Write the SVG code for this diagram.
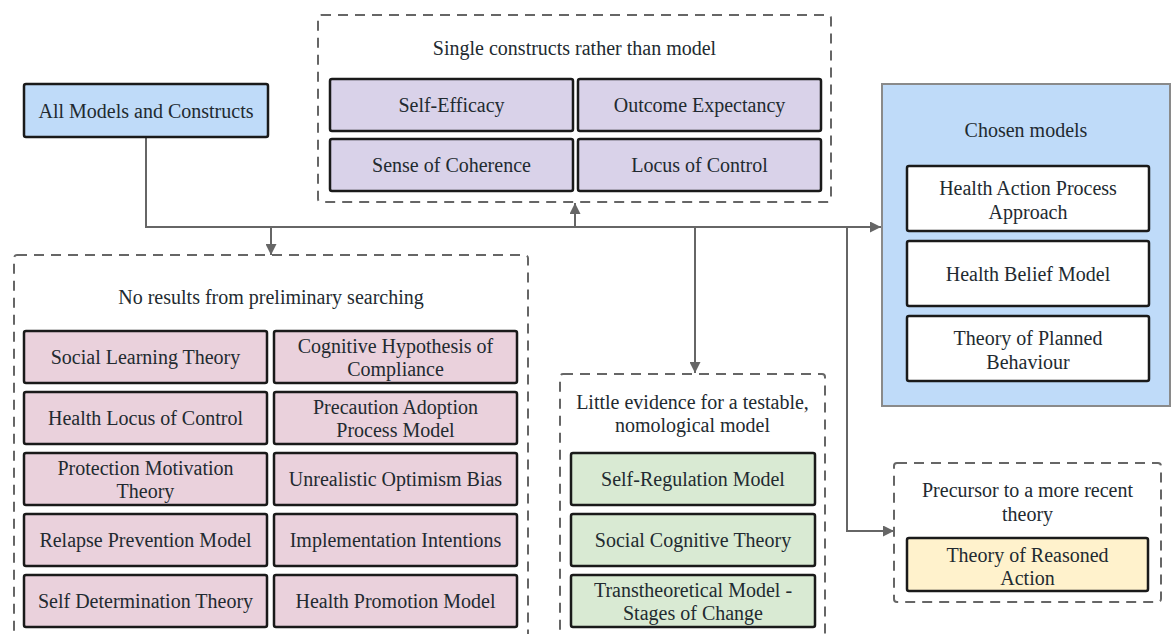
<svg xmlns="http://www.w3.org/2000/svg" width="1172" height="634" viewBox="0 0 1172 634">
<defs>
<style>
text{font-family:"Liberation Serif","Times New Roman",serif;font-size:20px;fill:#222a30;text-anchor:middle}
.box{stroke:#1a1a1a;stroke-width:2.5}
.dash{fill:none;stroke:#666;stroke-width:2;stroke-dasharray:10 7}
.blue{fill:#bfdbf9}
.purple{fill:#d9d2e9}
.pink{fill:#ead1dc}
.green{fill:#d9ead3}
.yellow{fill:#fff2cc}
.white{fill:#fff}
.conn{fill:none;stroke:#666;stroke-width:2}
</style>
<marker id="arr" viewBox="0 0 10 10" refX="10" refY="5" markerWidth="5.5" markerHeight="5.5" orient="auto" markerUnits="strokeWidth">
<path d="M0,0 L10,5 L0,10 z" fill="#666"/>
</marker>
</defs>
<rect width="1172" height="634" fill="#fff"/>

<g id="connectors">
<path class="conn" d="M146,137 V227 H881" marker-end="url(#arr)"/>
<path class="conn" d="M271,227 V255" marker-end="url(#arr)"/>
<path class="conn" d="M575,227 V203" marker-end="url(#arr)"/>
<path class="conn" d="M695,227 V373" marker-end="url(#arr)"/>
<path class="conn" d="M847,227 V531 H894" marker-end="url(#arr)"/>
</g>

<g id="all-models">
<rect class="box blue" x="24" y="84" width="244" height="53" rx="2"/>
<text x="146" y="118">All Models and Constructs</text>
</g>

<g id="single-constructs">
<rect class="dash" x="318" y="15" width="513" height="187" rx="3"/>
<text x="574.5" y="55">Single constructs rather than model</text>
<g id="self-efficacy"><rect class="box purple" x="330" y="79" width="243" height="52" rx="2"/><text x="451.5" y="112">Self-Efficacy</text></g>
<g id="outcome-expectancy"><rect class="box purple" x="578" y="79" width="243" height="52" rx="2"/><text x="699.5" y="112">Outcome Expectancy</text></g>
<g id="sense-of-coherence"><rect class="box purple" x="330" y="139" width="243" height="52" rx="2"/><text x="451.5" y="172">Sense of Coherence</text></g>
<g id="locus-of-control"><rect class="box purple" x="578" y="139" width="243" height="52" rx="2"/><text x="699.5" y="172">Locus of Control</text></g>
</g>

<g id="chosen-models">
<rect x="882" y="84" width="288" height="322" fill="#bfdbf9" stroke="#8a8a8a" stroke-width="2"/>
<text x="1026" y="137">Chosen models</text>
<g id="hapa"><rect class="box white" x="907" y="166" width="242" height="65" rx="2"/><text x="1028" y="195">Health Action Process</text><text x="1028" y="219">Approach</text></g>
<g id="hbm"><rect class="box white" x="907" y="241" width="242" height="65" rx="2"/><text x="1028" y="281">Health Belief Model</text></g>
<g id="tpb"><rect class="box white" x="907" y="316" width="242" height="65" rx="2"/><text x="1028" y="345">Theory of Planned</text><text x="1028" y="369">Behaviour</text></g>
</g>

<g id="no-results">
<rect class="dash" x="14" y="255" width="514" height="400" rx="3"/>
<text x="271" y="304">No results from preliminary searching</text>
<g id="slt"><rect class="box pink" x="24" y="331" width="243" height="52" rx="2"/><text x="145.5" y="364">Social Learning Theory</text></g>
<g id="chc"><rect class="box pink" x="274" y="331" width="243" height="52" rx="2"/><text x="395.5" y="353">Cognitive Hypothesis of</text><text x="395.5" y="376">Compliance</text></g>
<g id="hlc"><rect class="box pink" x="24" y="392" width="243" height="52" rx="2"/><text x="145.5" y="425">Health Locus of Control</text></g>
<g id="papm"><rect class="box pink" x="274" y="392" width="243" height="52" rx="2"/><text x="395.5" y="414">Precaution Adoption</text><text x="395.5" y="437">Process Model</text></g>
<g id="pmt"><rect class="box pink" x="24" y="453" width="243" height="52" rx="2"/><text x="145.5" y="475">Protection Motivation</text><text x="145.5" y="498">Theory</text></g>
<g id="uob"><rect class="box pink" x="274" y="453" width="243" height="52" rx="2"/><text x="395.5" y="486">Unrealistic Optimism Bias</text></g>
<g id="rpm"><rect class="box pink" x="24" y="514" width="243" height="52" rx="2"/><text x="145.5" y="547">Relapse Prevention Model</text></g>
<g id="ii"><rect class="box pink" x="274" y="514" width="243" height="52" rx="2"/><text x="395.5" y="547">Implementation Intentions</text></g>
<g id="sdt"><rect class="box pink" x="24" y="575" width="243" height="52" rx="2"/><text x="145.5" y="608">Self Determination Theory</text></g>
<g id="hpm"><rect class="box pink" x="274" y="575" width="243" height="52" rx="2"/><text x="395.5" y="608">Health Promotion Model</text></g>
</g>

<g id="little-evidence">
<rect class="dash" x="560" y="374" width="265" height="300" rx="3"/>
<text x="692.5" y="409">Little evidence for a testable,</text>
<text x="692.5" y="432">nomological model</text>
<g id="srm"><rect class="box green" x="571" y="453" width="244" height="52" rx="2"/><text x="693" y="486">Self-Regulation Model</text></g>
<g id="sct"><rect class="box green" x="571" y="514" width="244" height="52" rx="2"/><text x="693" y="547">Social Cognitive Theory</text></g>
<g id="ttm"><rect class="box green" x="571" y="575" width="244" height="52" rx="2"/><text x="693" y="597">Transtheoretical Model -</text><text x="693" y="620">Stages of Change</text></g>
</g>

<g id="precursor">
<rect class="dash" x="894" y="463" width="267" height="139" rx="3"/>
<text x="1027.5" y="497">Precursor to a more recent</text>
<text x="1027.5" y="521">theory</text>
<g id="tra"><rect class="box yellow" x="907" y="538" width="241" height="53" rx="2"/><text x="1027.5" y="562">Theory of Reasoned</text><text x="1027.5" y="585">Action</text></g>
</g>
</svg>
